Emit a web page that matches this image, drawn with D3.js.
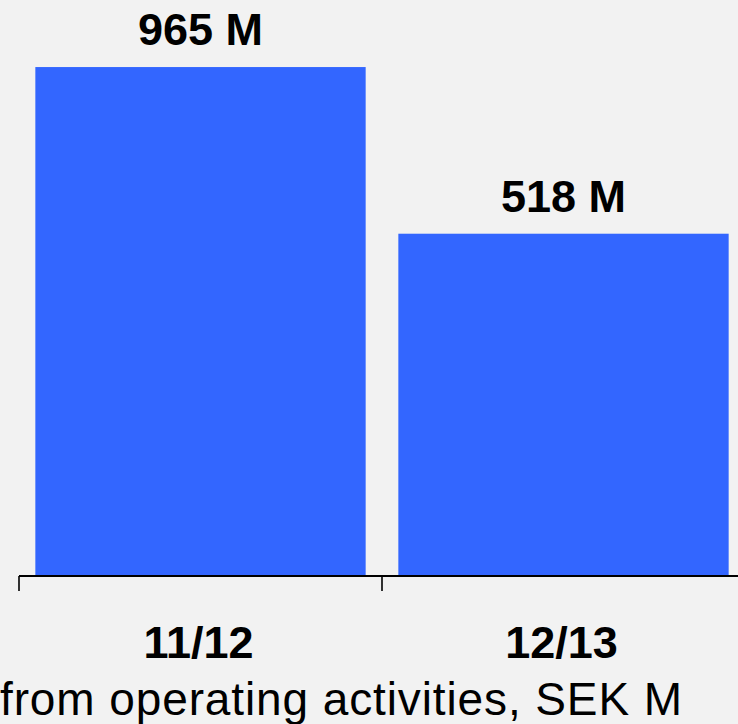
<!DOCTYPE html>
<html>
<head>
<meta charset="utf-8">
<script src="https://cdn.jsdelivr.net/npm/d3@7"></script>
<style>
  html, body { margin: 0; padding: 0; background: #f2f2f2; overflow: hidden; }
  svg { display: block; }
</style>
</head>
<body>
<div id="chart"></div>
<script>
// Operating cash flow per fiscal year, SEK million
const categories = ["11/12", "12/13"];
const values = [965, 518];
const valueLabels = ["965 M", "518 M"];
const axisTitle = "from operating activities, SEK M";

const width = 738, height = 724;
const fontFamily = "'Liberation Sans', Arial, Helvetica, sans-serif";

const svg = d3.select("#chart").append("svg")
  .attr("width", width)
  .attr("height", height);

svg.append("rect")
  .attr("width", width).attr("height", height)
  .attr("fill", "#f2f2f2");

const baseY = 576;
const x = d3.scaleBand()
  .domain(categories)
  .range([19, 745])
  .paddingInner(0.09)
  .paddingOuter(0.045);

const y = d3.scaleLinear()
  .domain([-400, 1000])
  .range([baseY, 54]);

// bars
svg.append("g").selectAll("rect")
  .data(values)
  .join("rect")
  .attr("x", (d, i) => x(categories[i]))
  .attr("width", x.bandwidth())
  .attr("y", d => y(d))
  .attr("height", d => baseY - y(d))
  .attr("fill", "#3366ff");

// value labels above bars
svg.append("g").selectAll("text")
  .data(values)
  .join("text")
  .attr("x", (d, i) => x(categories[i]) + x.bandwidth() / 2)
  .attr("y", d => y(d) - 22)
  .attr("text-anchor", "middle")
  .attr("font-family", fontFamily)
  .attr("font-weight", "bold")
  .attr("font-size", 45)
  .attr("fill", "#000")
  .text((d, i) => valueLabels[i]);

// category axis: baseline with ticks between categories
const half = (x.step() - x.bandwidth()) / 2;
const axis = svg.append("g");
axis.append("line")
  .attr("x1", x.range()[0]).attr("x2", x.range()[1])
  .attr("y1", baseY).attr("y2", baseY)
  .attr("stroke", "#000").attr("stroke-width", 2);
axis.selectAll("line.tick")
  .data(categories)
  .join("line")
  .attr("class", "tick")
  .attr("x1", d => x(d) - half).attr("x2", d => x(d) - half)
  .attr("y1", baseY).attr("y2", baseY + 15)
  .attr("stroke", "#000").attr("stroke-width", 1.6);

axis.selectAll("text.cat")
  .data(categories)
  .join("text")
  .attr("class", "cat")
  .attr("x", d => x(d) + x.bandwidth() / 2 - 2)
  .attr("y", 658)
  .attr("text-anchor", "middle")
  .attr("font-family", fontFamily)
  .attr("font-weight", "bold")
  .attr("font-size", 45)
  .attr("fill", "#000")
  .text(d => d);

// axis title
svg.append("text")
  .attr("x", 0)
  .attr("y", 715)
  .attr("text-anchor", "start")
  .attr("font-family", fontFamily)
  .attr("font-size", 46)
  .attr("textLength", 682)
  .attr("lengthAdjust", "spacing")
  .attr("fill", "#000")
  .text(axisTitle);
</script>
</body>
</html>
